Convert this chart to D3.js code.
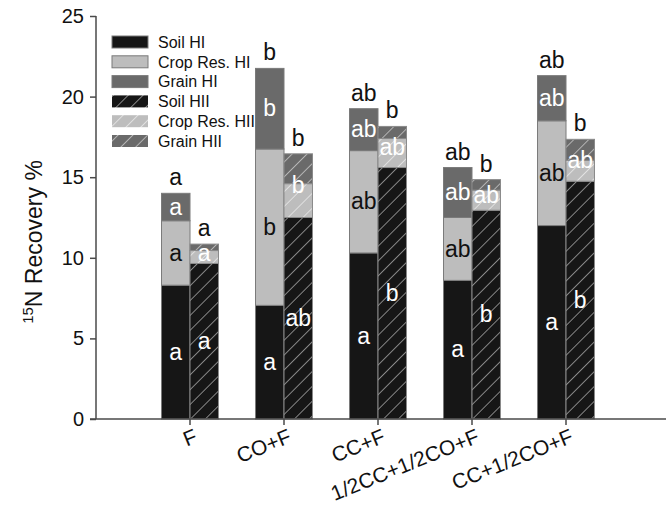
<!DOCTYPE html>
<html>
<head>
<meta charset="utf-8">
<script src="https://cdn.jsdelivr.net/npm/d3@7"></script>
<style>
html,body{margin:0;padding:0;background:#fff;}
svg{display:block;font-family:"Liberation Sans",Arial,sans-serif;}
</style>
</head>
<body>
<svg id="chart" width="666" height="506"></svg>
<script>
// ---- data ----
const categories = ["F", "CO+F", "CC+F", "1/2CC+1/2CO+F", "CC+1/2CO+F"];
// Harvest I (HI) components
const soilHI  = [8.3, 7.05, 10.3, 8.6, 12.0];
const cropHI  = [4.0, 9.7, 6.35, 3.9, 6.5];
const grainHI = [1.7, 5.0, 2.6, 3.1, 2.8];
// Harvest II (HII) components
const soilHII  = [9.65, 12.5, 15.6, 12.95, 14.75];
const cropHII  = [0.8, 2.1, 1.8, 1.25, 1.3];
const grainHII = [0.4, 1.85, 0.75, 0.65, 1.3];
// significance letters
const soilHILetters  = ["a", "a", "a", "a", "a"];
const cropHILetters  = ["a", "b", "ab", "ab", "ab"];
const grainHILetters = ["a", "b", "ab", "ab", "ab"];
const topHILetters   = ["a", "b", "ab", "ab", "ab"];
const soilHIILetters = ["a", "ab", "b", "b", "b"];
const midHIILetters  = ["a", "b", "ab", "ab", "ab"];
const topHIILetters  = ["a", "b", "b", "b", "b"];
const yTicks = [0, 5, 10, 15, 20, 25];
const legendLabels = ["Soil HI", "Crop Res. HI", "Grain HI", "Soil HII", "Crop Res. HII", "Grain HII"];

// ---- setup ----
const svg = d3.select("#chart");
const colSoil = "#161616", colCrop = "#bdbdbd", colGrain = "#6a6a6a";
const axisCol = "#4a4a4a";

const x = d3.scaleLinear().domain([0, 6]).range([96, 660]);
const y = d3.scaleLinear().domain([0, 25]).range([419, 16]);
const bw = x(0.303) - x(0);

// hatch patterns
const defs = svg.append("defs");
function hatch(id, bg, line) {
  const p = defs.append("pattern").attr("id", id)
    .attr("patternUnits", "userSpaceOnUse")
    .attr("width", 10.5).attr("height", 10.5)
    .attr("patternTransform", "rotate(45)");
  p.append("rect").attr("width", 10.5).attr("height", 10.5).attr("fill", bg);
  p.append("line").attr("x1", 0).attr("y1", 0).attr("x2", 0).attr("y2", 10.5)
    .attr("stroke", line).attr("stroke-width", 1.3);
}
hatch("hSoil", colSoil, "#bfbfbf");
hatch("hCrop", colCrop, "#f2f2f2");
hatch("hGrain", colGrain, "#d9d9d9");

// ---- bars ----
const g = svg.append("g");
function stack(a, b, c) {
  return categories.map((_, i) => {
    const s = a[i], cr = a[i] + b[i], gr = a[i] + b[i] + c[i];
    return [[0, s], [s, cr], [cr, gr]];
  });
}
const hiStack = stack(soilHI, cropHI, grainHI);
const hiiStack = stack(soilHII, cropHII, grainHII);
const hiFills = [colSoil, colCrop, colGrain];
const hiiFills = ["url(#hSoil)", "url(#hCrop)", "url(#hGrain)"];

categories.forEach((c, i) => {
  const xc = x(i + 1);
  hiStack[i].forEach((seg, k) => {
    g.append("rect").attr("x", xc - bw).attr("width", bw)
      .attr("y", y(seg[1])).attr("height", y(seg[0]) - y(seg[1]))
      .attr("fill", hiFills[k]).attr("stroke", "#7a7a7a").attr("stroke-width", 1);
  });
  hiiStack[i].forEach((seg, k) => {
    g.append("rect").attr("x", xc).attr("width", bw)
      .attr("y", y(seg[1])).attr("height", y(seg[0]) - y(seg[1]))
      .attr("fill", hiiFills[k]).attr("stroke", "#8a8a8a").attr("stroke-width", 1);
  });
});

// ---- letters ----
const lab = svg.append("g").attr("font-size", 23).attr("text-anchor", "middle");
function txt(xp, yp, s, col, dy) {
  lab.append("text").attr("x", xp).attr("y", yp).attr("dy", dy).attr("fill", col).text(s);
}
categories.forEach((c, i) => {
  const xc = x(i + 1);
  const hi = hiStack[i], hii = hiiStack[i];
  const cHI = xc - bw / 2, cHII = xc + bw / 2;
  txt(cHI, y((hi[0][0] + hi[0][1]) / 2), soilHILetters[i], "#fff", "0.33em");
  txt(cHI, y((hi[1][0] + hi[1][1]) / 2), cropHILetters[i], "#111", "0.33em");
  txt(cHI, y((hi[2][0] + hi[2][1]) / 2), grainHILetters[i], "#fff", "0.33em");
  txt(cHI, y(hi[2][1]) - 8, topHILetters[i], "#111", 0);
  txt(cHII, y((hii[0][0] + hii[0][1]) / 2), soilHIILetters[i], "#fff", "0.33em");
  txt(cHII, y((hii[1][0] + hii[2][1]) / 2), midHIILetters[i], "#fff", "0.33em");
  txt(cHII, y(hii[2][1]) - 8, topHIILetters[i], "#111", 0);
});

// ---- axes ----
const yAxis = d3.axisLeft(y).tickValues(yTicks).tickSize(6).tickPadding(6);
const ya = svg.append("g").attr("transform", "translate(96,0)").call(yAxis);
ya.select(".domain").attr("stroke", axisCol).attr("stroke-width", 1.5).attr("d", "M0,16V419");
ya.selectAll(".tick line").attr("stroke", axisCol).attr("stroke-width", 1.5);
ya.selectAll(".tick text").attr("font-size", 20).attr("fill", "#111")
  .attr("font-family", "Liberation Sans, Arial, sans-serif");

const xa = svg.append("g");
xa.append("line").attr("x1", 90).attr("x2", 666).attr("y1", 419).attr("y2", 419)
  .attr("stroke", axisCol).attr("stroke-width", 1.5);
categories.forEach((c, i) => {
  const xc = x(i + 1);
  xa.append("line").attr("x1", xc).attr("x2", xc).attr("y1", 419).attr("y2", 425)
    .attr("stroke", axisCol).attr("stroke-width", 1.5);
  xa.append("text").attr("transform", `translate(${xc + 3},428) rotate(-22)`)
    .attr("text-anchor", "end").attr("dy", "0.72em").attr("font-size", 21)
    .attr("fill", "#111").text(c);
});

// ---- y title ----
const yt = svg.append("text").attr("transform", "translate(42,242) rotate(-90)")
  .attr("text-anchor", "middle").attr("font-size", 23).attr("fill", "#111");
yt.append("tspan").attr("font-size", 15).attr("dy", "-0.6em").text("15");
yt.append("tspan").attr("dy", "0.38em").text("N Recovery %");

// ---- legend ----
const leg = svg.append("g");
const legFills = [colSoil, colCrop, colGrain, "url(#hSoil)", "url(#hCrop)", "url(#hGrain)"];
legendLabels.forEach((l, k) => {
  const yy = 42 + k * 19.8;
  leg.append("rect").attr("x", 112).attr("y", yy - 6).attr("width", 36).attr("height", 12)
    .attr("fill", legFills[k]).attr("stroke", k < 3 ? "#7a7a7a" : "none").attr("stroke-width", 1);
  leg.append("text").attr("x", 158).attr("y", yy).attr("dy", "0.36em")
    .attr("font-size", 16).attr("fill", "#111").text(l);
});
</script>
</body>
</html>
